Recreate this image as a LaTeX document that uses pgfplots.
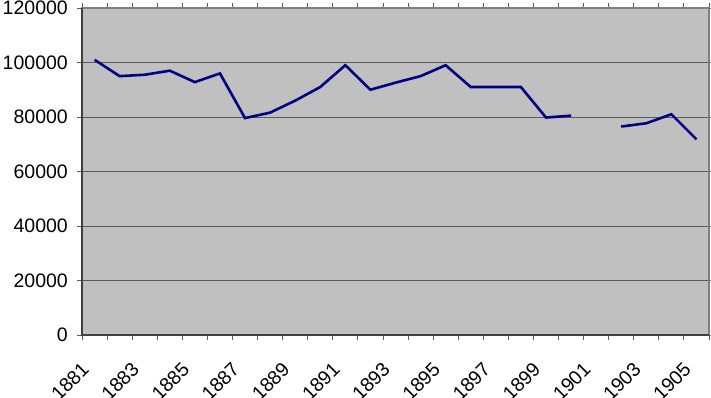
\documentclass[border=0pt]{standalone}
\usepackage{fontspec}
\setmainfont{Liberation Sans}
\usepackage{pgfplots}
\pgfplotsset{compat=1.18}
\definecolor{bgray}{HTML}{C0C0C0}
\definecolor{gridc}{HTML}{5A5A5A}
\definecolor{framec}{HTML}{808080}
\definecolor{navyc}{HTML}{000080}
\begin{document}
\begin{tikzpicture}
\begin{axis}[
  scale only axis, width=627bp, height=327bp,
  xmin=1880.5, xmax=1905.5, ymin=0, ymax=120000,
  axis background/.style={fill=bgray},
  axis line style={draw=framec, line width=1.5bp},
  xtick={1881,1883,1885,1887,1889,1891,1893,1895,1897,1899,1901,1903,1905},
  xticklabels={1881,1883,1885,1887,1889,1891,1893,1895,1897,1899,1901,1903,1905},
  every major x tick/.style={draw=none},
  minor xtick={1880.5,1881.5,...,1905.5},
  xticklabel style={xshift=-14bp, yshift=-21bp, rotate=45, anchor=north east, inner sep=0pt},
  ytick={0,20000,40000,60000,80000,100000,120000},
  yticklabels={0,20000,40000,60000,80000,100000,120000},
  yticklabel style={inner sep=0pt, xshift=-9bp},
  tick align=outside, major tick length=5bp, minor tick length=5bp,
  tick style={draw=gridc, line width=0.8bp},
  ymajorgrids, grid style={draw=gridc, line width=0.8bp},
  ticklabel style={font=\fontsize{19.5bp}{23bp}\selectfont},
  unbounded coords=jump,
  clip=false,
]
\addplot[color=navyc, line width=2.6bp, mark=none] coordinates {
(1881,101000) (1882,95000) (1883,95500) (1884,97000) (1885,92800)
(1886,96000) (1887,79600) (1888,81600) (1889,86000) (1890,91000)
(1891,99000) (1892,90000) (1893,92600) (1894,95000) (1895,99000)
(1896,91000) (1897,91000) (1898,91000) (1899,79800) (1900,80500)
(1901,nan) (1902,76500) (1903,77700) (1904,81000) (1905,71800)
};
\draw[draw=gridc!70!black, line width=1.5bp] (rel axis cs:0,1) -- (rel axis cs:0,0) -- (rel axis cs:1,0);
\end{axis}
\pgfresetboundingbox
\useasboundingbox (-82bp,-63bp) rectangle (629bp,335bp);
\end{tikzpicture}
\end{document}
